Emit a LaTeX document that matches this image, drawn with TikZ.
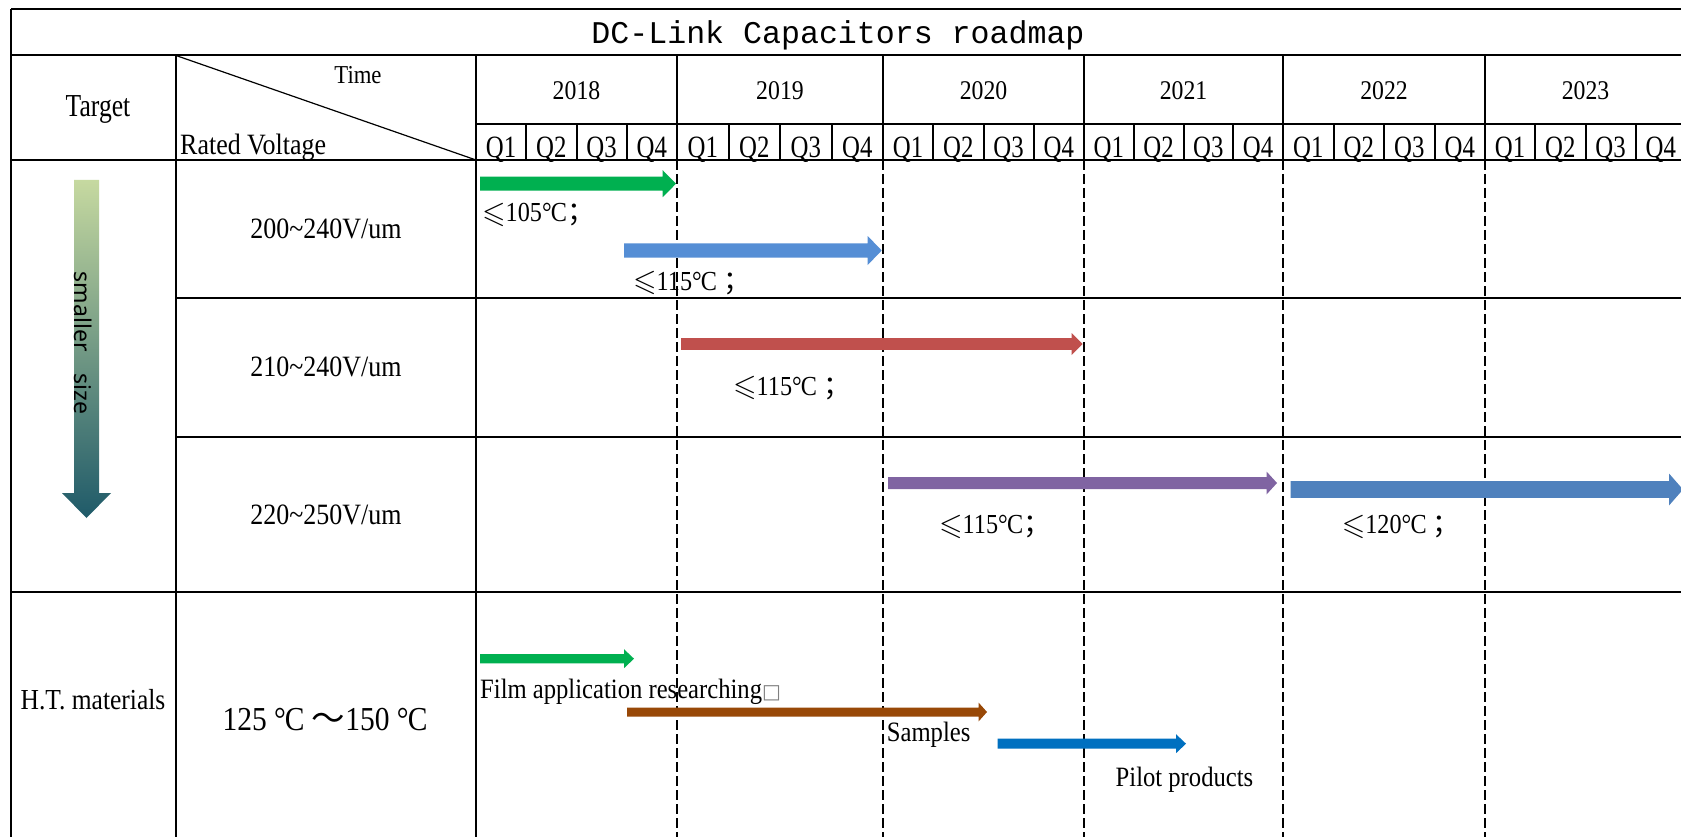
\documentclass[tikz,border=0pt]{standalone}
\usepackage{fontspec}
\usepackage{amssymb}
\usepackage{graphicx}
\setmainfont{Liberation Serif}[FakeStretch=0.88]
\newfontfamily\qfont{Liberation Serif}[FakeStretch=0.8]
\newfontfamily\titlefnt{Liberation Mono}
\newfontfamily\cjkfnt{Noto Sans CJK SC}
\newfontfamily\sansfnt{Noto Sans}
\newfontfamily\symfnt{DejaVu Sans}
\newcommand\fsz[1]{\fontsize{#1}{#1}\selectfont}
\newcommand\myC{°\kern-0.03em C}
\newcommand\lesl{\raisebox{-0.03em}{\scalebox{1.1}{$\leqslant$}}}
\newcommand\fsemi{{\cjkfnt ；}}
\definecolor{cgreen}{HTML}{00B050}
\definecolor{cblueA}{HTML}{558ED5}
\definecolor{cred}{HTML}{C0504D}
\definecolor{cpurple}{HTML}{8064A2}
\definecolor{cblueB}{HTML}{4F81BD}
\definecolor{cbrown}{HTML}{984807}
\definecolor{cblueC}{HTML}{0070C0}
\definecolor{gtop}{HTML}{C6D9A0}
\definecolor{gmid}{HTML}{9BBB59}
\definecolor{gbot}{HTML}{1F5A69}
% color, x start, head start, tip, y centre, half shaft, half head
\newcommand\rdarrow[7]{\fill[#1] (#2,{#5-#6}) -- (#3,{#5-#6}) -- (#3,{#5-#7}) -- (#4,#5) -- (#3,{#5+#7}) -- (#3,{#5+#6}) -- (#2,{#5+#6}) -- cycle;}
\begin{document}
\begin{tikzpicture}[x=1pt,y=-1pt,
  frame/.style={line width=2pt,black},
  diag/.style={line width=1.2pt,black},
  yrdash/.style={line width=1.8pt,black,dash pattern=on 10pt off 4pt},
  txt/.style={inner sep=0pt,anchor=base},
  ltxt/.style={inner sep=0pt,anchor=base west},
  temp/.style={ltxt,font=\fsz{27.5}}]
\useasboundingbox (0,0) rectangle (1681,837);
\clip (0,0) rectangle (1681,837);
\fill[white] (0,0) rectangle (1681,837);

% table frame
\draw[frame] (11,9) -- (1700,9);
\draw[frame] (11,55.5) -- (1700,55.5);
\draw[frame] (476,124) -- (1700,124);
\draw[frame] (11,160) -- (1700,160);
\draw[frame] (176,298) -- (1700,298);
\draw[frame] (176,437) -- (1700,437);
\draw[frame] (11,592) -- (1700,592);
\draw[frame] (11,9) -- (11,850);
\draw[frame] (176,55.5) -- (176,850);
\draw[frame] (476,55.5) -- (476,850);
\draw[diag] (176,55.5) -- (476,160);

% year lines
\foreach \x in {677,883,1084,1283,1485}{
  \draw[frame] (\x,55.5) -- (\x,160);
  \draw[yrdash] (\x,160) -- (\x,850);
}
% years and quarters
\foreach \a/\b/\yr in {476/677/2018,677/883/2019,883/1084/2020,1084/1283/2021,1283/1485/2022,1485/1686/2023}{
  \node[txt,font=\fsz{27}] (y\yr) at ({(\a+\b)/2},100) {\yr};
  \foreach \q in {1,2,3,4}
    \node[txt,font=\qfont\fsz{31}] (q\yr\q) at ({\a+(\b-\a)*(\q-0.5)/4},157.3) {Q\q};
  \foreach \q in {1,2,3}
    \draw[frame] ({\a+(\b-\a)*\q/4},124) -- ({\a+(\b-\a)*\q/4},160);
}

% headers
\node[txt,font=\titlefnt\fsz{31.6}] (title) at (838,43.3) {DC-Link Capacitors roadmap};
\node[txt,font=\qfont\fsz{32}] (target) at (98,117) {Target};
\node[txt,font=\fsz{25.8}] (time) at (358,83.3) {Time};
\node[ltxt,font=\fsz{29.5}] (rated) at (180,155) {Rated Voltage};

% gradient arrow
\shade[top color=gtop,middle color=gmid,bottom color=gbot]
  (74,180) -- (99,180) -- (99,493) -- (111,493) -- (86.5,518) -- (62,493) -- (74,493) -- cycle;
\node[inner sep=0pt,rotate=-90,font=\sansfnt\fsz{23}] (smaller) at (83,343) {smaller\hspace{22pt}size};

% row labels
\node[txt,font=\fsz{29.5}] (r1) at (326,238.3) {200\char`~240V/um};
\node[txt,font=\fsz{29.5}] (r2) at (326,376.7) {210\char`~240V/um};
\node[txt,font=\fsz{29.5}] (r3) at (326,524.3) {220\char`~250V/um};
\node[txt,font=\fsz{29}] (ht) at (93,709.3) {H.T. materials};
\node[txt,font=\fsz{33.5}] (htv) at (325,730) {125 \myC\ {\cjkfnt ～}150 \myC};

% arrows
\rdarrow{cgreen}{480}{662.7}{676}{183.7}{7}{13.5}
\rdarrow{cblueA}{624}{867.7}{881.7}{250.5}{7.2}{14.5}
\rdarrow{cred}{681}{1071.7}{1082.7}{344}{5.8}{11}
\rdarrow{cpurple}{888}{1266.5}{1277}{483}{6}{11.5}
\rdarrow{cblueB}{1290.6}{1669}{1683}{489.5}{8.3}{16}
\rdarrow{cgreen}{480}{624}{634}{658.7}{4.7}{9.5}
\rdarrow{cbrown}{627}{978.5}{987}{712}{4.5}{9.5}
\rdarrow{cblueC}{997.6}{1176}{1186}{743.7}{5}{9.5}

% arrow labels
\node[temp] (l1) at (482,221.7) {\lesl105\myC\fsemi};
\node[temp] (l2) at (633,290) {\lesl115\myC\ \fsemi};
\node[temp] (l3) at (733,395) {\lesl115\myC\ \fsemi};
\node[temp] (l4) at (939,533.3) {\lesl115\myC\fsemi};
\node[temp] (l5) at (1341.6,533.3) {\lesl120\myC\ \fsemi};
\node[ltxt,font=\fsz{28}] (film) at (480,698.3) {Film application researching{\symfnt\fsz{20}\color{gray}□}};
\node[ltxt,font=\fsz{28}] (samples) at (886.7,741.7) {Samples};
\node[ltxt,font=\fsz{28}] (pilot) at (1115.5,786.7) {Pilot products};
\end{tikzpicture}
\end{document}
